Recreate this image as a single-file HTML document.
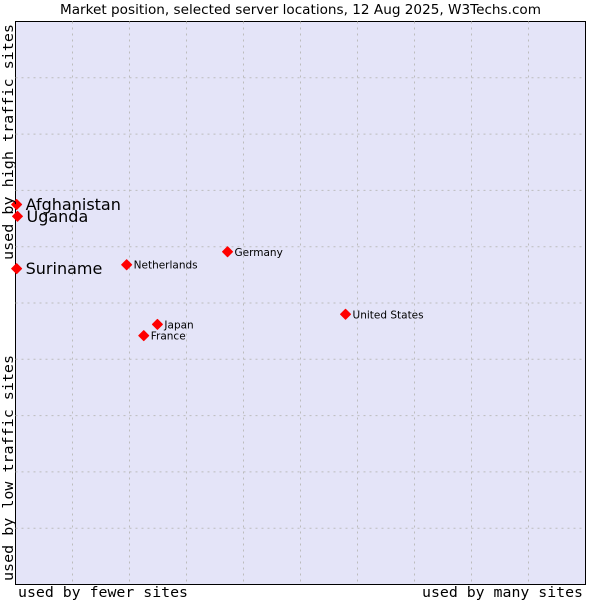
<!DOCTYPE html>
<html><head><meta charset="utf-8"><style>
body{margin:0;background:#fff;}
svg{display:block;}
</style></head><body>
<svg id="chart" width="600" height="600" xmlns="http://www.w3.org/2000/svg">
<text x="60" y="14" textLength="481" lengthAdjust="spacingAndGlyphs" font-family="DejaVu Sans, sans-serif" font-size="13">Market position, selected server locations, 12 Aug 2025, W3Techs.com</text>
<rect x="15.5" y="21.5" width="570" height="563" fill="#e4e4f8" stroke="#000" stroke-width="1"/>
<g id="grid"></g>
<g id="points"></g>
<text x="18" y="597" textLength="170" lengthAdjust="spacingAndGlyphs" font-family="DejaVu Sans Mono, monospace" font-size="14">used by fewer sites</text>
<text x="422" y="597" textLength="161" lengthAdjust="spacingAndGlyphs" font-family="DejaVu Sans Mono, monospace" font-size="14">used by many sites</text>
<text transform="translate(13,260) rotate(-90)" textLength="236" lengthAdjust="spacingAndGlyphs" font-family="DejaVu Sans Mono, monospace" font-size="14">used by high traffic sites</text>
<text transform="translate(13,581) rotate(-90)" textLength="226" lengthAdjust="spacingAndGlyphs" font-family="DejaVu Sans Mono, monospace" font-size="14">used by low traffic sites</text>
</svg>
<script>
const names = ["Afghanistan","Uganda","Suriname","Netherlands","Germany","United States","Japan","France"];
const xVals = [0.2, 0.35, 0.2, 19.5, 37.2, 57.9, 24.9, 22.5];
const yVals = [67.5, 65.4, 56.1, 56.8, 59.1, 48.0, 46.2, 44.2];
const bigLabel = [true, true, true, false, false, false, false, false];
const gridTicks = [10,20,30,40,50,60,70,80,90];

const X0=15.5, X1=585.5, Y0=584.5, Y1=21.5;
const sx = v => X0 + v/100*(X1-X0);
const sy = v => Y0 - v/100*(Y0-Y1);
const NS="http://www.w3.org/2000/svg";
const grid=document.getElementById('grid');
gridTicks.forEach(t=>{
  const v=document.createElementNS(NS,'line');
  v.setAttribute('x1',sx(t));v.setAttribute('x2',sx(t));v.setAttribute('y1',Y1);v.setAttribute('y2',Y0);
  v.setAttribute('stroke','#bcbcbc');v.setAttribute('stroke-dasharray','2,4');
  
  
  grid.appendChild(v);
  const h=document.createElementNS(NS,'line');
  h.setAttribute('y1',sy(t));h.setAttribute('y2',sy(t));h.setAttribute('x1',X0);h.setAttribute('x2',X1);
  h.setAttribute('stroke','#bcbcbc');h.setAttribute('stroke-dasharray','2,4');
  
  
  grid.appendChild(h);
});
const pts=document.getElementById('points');
names.forEach((n,i)=>{
  const x=sx(xVals[i]), y=sy(yVals[i]);
  const p=document.createElementNS(NS,'polygon');
  p.setAttribute('points',`${x},${y-5} ${x+5},${y} ${x},${y+5} ${x-5},${y}`);
  p.setAttribute('fill','#f00');
  p.setAttribute('stroke','#f00');
  p.setAttribute('stroke-width','1');
  p.setAttribute('stroke-linejoin','round');
  
  
  pts.appendChild(p);
  const t=document.createElementNS(NS,'text');
  const big=bigLabel[i];
  t.setAttribute('x',x+(big?9:7));
  t.setAttribute('y',y+(big?5.5:4));
  t.setAttribute('font-family','DejaVu Sans, sans-serif');
  t.setAttribute('font-size',big?16:10.5);
  t.textContent=n;
  
  
  pts.appendChild(t);
});
</script>
</body></html>
